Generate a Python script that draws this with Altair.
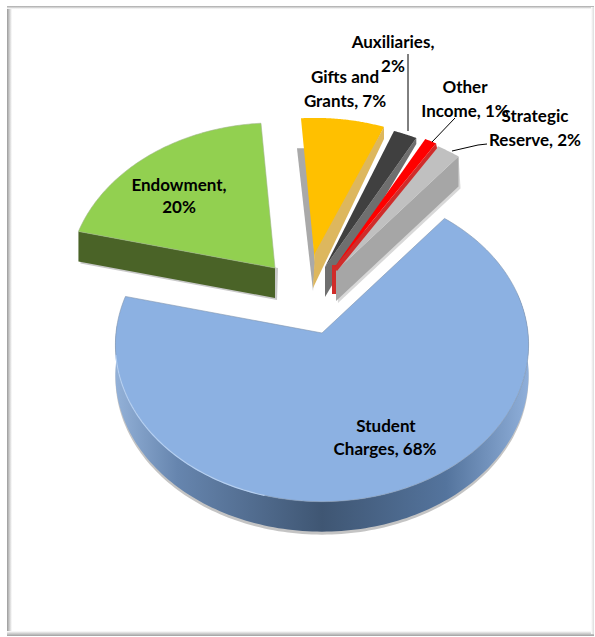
import numpy as np
import pandas as pd
import altair as alt

# Revenue shares, clockwise from the upper right of the disc
categories = ["Student Charges", "Endowment", "Gifts and Grants",
              "Auxiliaries", "Other Income", "Strategic Reserve"]
shares = [68, 20, 7, 2, 1, 2]

label_lines = ["Endowment,", "20%", "Gifts and", "Grants, 7%", "Auxiliaries,", "2%",
               "Other", "Income, 1%", "Strategic", "Reserve, 2%", "Student", "Charges, 68%"]
label_x = [179, 179, 345, 345, 393, 393, 465, 465, 535, 535, 386, 385]
label_y = [186, 208, 78, 102, 43, 67, 88, 112, 117, 141, 427, 450]

W, H = 595, 637

# Projection of the tilted disc
RX, RY, PERSPECTIVE, START_ANGLE, DEPTH = 206.0, 156.0, 0.075, 39.0, 30.0

# Where each exploded wedge has its point on the page
apex_x = [322, 275, 315, 325, 334, 336]
apex_y = [333, 268, 263, 267, 268, 271]

# Leader lines from outside labels to their wedges
leader_paths = [[(408, 54), (408, 131)],
                [(455, 118), (432, 142)],
                [(487, 144), (478, 145), (452, 151)]]


def rim(ax, ay, a0, a1, n=80):
    t = np.radians(np.linspace(a0, a1, n))
    d = 1 + PERSPECTIVE * np.cos(t)
    return list(zip(ax + RX * np.sin(t) / d, ay - RY * np.cos(t) / d))


def shifted(points, dx=0.0, dy=DEPTH):
    return [(x + dx, y + dy) for x, y in points]


x_scale = alt.Scale(domain=[0, W], nice=False, zero=False)
y_scale = alt.Scale(domain=[H, 0], nice=False, zero=False)


def frame(points):
    return pd.DataFrame({"x": [p[0] for p in points],
                         "y": [p[1] for p in points],
                         "i": range(len(points))})


def poly(points, fill, stroke="transparent", width=0.0, opacity=1.0):
    pts = list(points) + [points[0]]
    return alt.Chart(frame(pts)).mark_line(
        fill=fill, stroke=stroke, strokeWidth=width, opacity=opacity,
        interpolate="linear", clip=False
    ).encode(
        x=alt.X("x:Q", scale=x_scale, axis=None),
        y=alt.Y("y:Q", scale=y_scale, axis=None),
        order="i:Q",
    )


def path(points, stroke, width=1.0, opacity=1.0):
    return alt.Chart(frame(points)).mark_line(
        stroke=stroke, strokeWidth=width, opacity=opacity
    ).encode(
        x=alt.X("x:Q", scale=x_scale, axis=None),
        y=alt.Y("y:Q", scale=y_scale, axis=None),
        order="i:Q",
    )


def linear(stops, x2=1.0, y2=0.0):
    return alt.LinearGradient(
        gradient="linear", x1=0, y1=0, x2=x2, y2=y2,
        stops=[alt.GradientStop(offset=o, color=c) for o, c in stops],
    )


# Angular extents accumulated from the shares
spans = []
a = START_ANGLE
for s in shares:
    spans.append((a, a + s * 3.6))
    a += s * 3.6

layers = []

# Panel border with its soft inner shading
layers.append(poly([(7, 7), (12, 7), (12, 634), (7, 634)],
                   linear([(0, "#9a9a9a"), (0.4, "#c4c4c4"), (1, "#ffffff")])))
layers.append(poly([(7, 6), (594, 6), (594, 9), (7, 9)],
                   linear([(0, "#a8a8a8"), (1, "#ffffff")], x2=0.0, y2=1.0)))
layers.append(poly([(7, 631), (594, 631), (594, 636), (7, 636)],
                   linear([(0, "#ffffff"), (1, "#a0a0a0")], x2=0.0, y2=1.0)))
layers.append(poly([(591, 7), (594, 7), (594, 634), (591, 634)],
                   linear([(0, "#ffffff"), (1, "#dcdcdc")])))

# Student Charges: shadow, wall, top
a0, a1 = spans[0]
ax, ay = apex_x[0], apex_y[0]
blue_rim = rim(ax, ay, a0, a1, 200)
front = rim(ax, ay, 75, a1 - 10, 160)
wall = front + shifted(front)[::-1]
layers.append(poly(shifted(front, 0, DEPTH + 3) + front[::-1], "#b5b5b5", opacity=0.8))
layers.append(poly(wall, linear([(0, "#93b1d8"), (0.15, "#6685ae"), (0.5, "#3f5673"),
                                  (0.8, "#54749d"), (1, "#8fafda")])))
layers.append(poly([(ax, ay)] + blue_rim, "#8cb1e2", stroke="#8295ae", width=0.6))
layers.append(path(rim(ax, ay, 195, 262, 60), "#b4cff2", 1.2))

# Endowment
a0, a1 = spans[1]
ax, ay = apex_x[1], apex_y[1]
green_rim = rim(ax, ay, a0, a1)
left, apex = green_rim[0], (ax, ay)
layers.append(poly([shifted([left], 2, DEPTH + 2)[0], shifted([apex], 2, DEPTH + 2)[0],
                    (apex[0] + 3, apex[1]), (left[0] + 3, left[1])], "#b0b0b0", opacity=0.7))
layers.append(poly([left, apex, shifted([apex])[0], shifted([left])[0]], "#4a6327"))
layers.append(poly([apex] + green_rim[::-1], "#92d050", stroke="#9fb58a", width=0.6))

# Gifts and Grants: the wedge shows its far cut wall through the near one
a0, a1 = spans[2]
ax, ay = apex_x[2], apex_y[2]
gold_rim = rim(ax, ay, a0, a1)
gold_left = gold_rim[0]
layers.append(poly([(gold_left[0] + 6, gold_left[1] + DEPTH), (gold_left[0] - 4, gold_left[1] + DEPTH),
                    (ax - 2, ay + DEPTH - 2), (ax, ay)], "#a9a9a9"))
layers.append(poly([(ax, ay)] + gold_rim, "#ffc000"))
layers.append(poly([gold_rim[-1], (gold_rim[-1][0], gold_rim[-1][1] + 12),
                    (ax - 2, ay + 25), (ax, ay - 10)], "#ddb75e"))

# Auxiliaries and Strategic Reserve show a full cut wall
for idx, top, side, thick in [(3, "#404040", "#6f6f6f", 6), (5, "#c0c0c0", "#a6a6a6", DEPTH)]:
    a0, a1 = spans[idx]
    ax, ay = apex_x[idx], apex_y[idx]
    r = rim(ax, ay, a0, a1, 20)
    right = r[-1]
    if idx == 5:
        layers.append(poly(shifted([right, (ax, ay)], 2, DEPTH + 2) + [(ax, ay), right],
                           "#c8c8c8", opacity=0.7))
    layers.append(poly([right, (ax, ay), (ax, ay + DEPTH), (right[0], right[1] + thick)], side))
    layers.append(poly([(ax, ay)] + r, top))

# Other Income: a thin edge along the wedge and a short upright strip at its point
a0, a1 = spans[4]
ax, ay = apex_x[4], apex_y[4]
r = rim(ax, ay, a0, a1, 20)
right = r[-1]
layers.append(poly([right, (ax, ay), (ax + 3, ay + 3), (right[0] + 1, right[1] + 5)], "#d02c2a"))
layers.append(poly([(ax - 2, ay - 3), (ax + 2, ay - 3), (ax + 2, ay + 26), (ax - 2, ay + 26)], "#d02c2a"))
layers.append(poly([(ax, ay)] + r, "#ff0000"))

# Leader lines
for p in leader_paths:
    layers.append(path(p, "#000000", 1.0))

# Labels
labels = pd.DataFrame({"t": label_lines, "x": label_x, "y": label_y})
layers.append(alt.Chart(labels).mark_text(
    font="Lato", fontWeight="bold", fontSize=17, color="#000000",
    align="center", baseline="middle"
).encode(
    x=alt.X("x:Q", scale=x_scale, axis=None),
    y=alt.Y("y:Q", scale=y_scale, axis=None),
    text="t:N",
))

chart = alt.layer(*layers).properties(
    width=W, height=H, padding=0, background="#ffffff",
    autosize=alt.AutoSizeParams(type="none"),
).configure_view(stroke=None)

chart.save("out.html", embed_options={"renderer": "svg", "actions": False})
